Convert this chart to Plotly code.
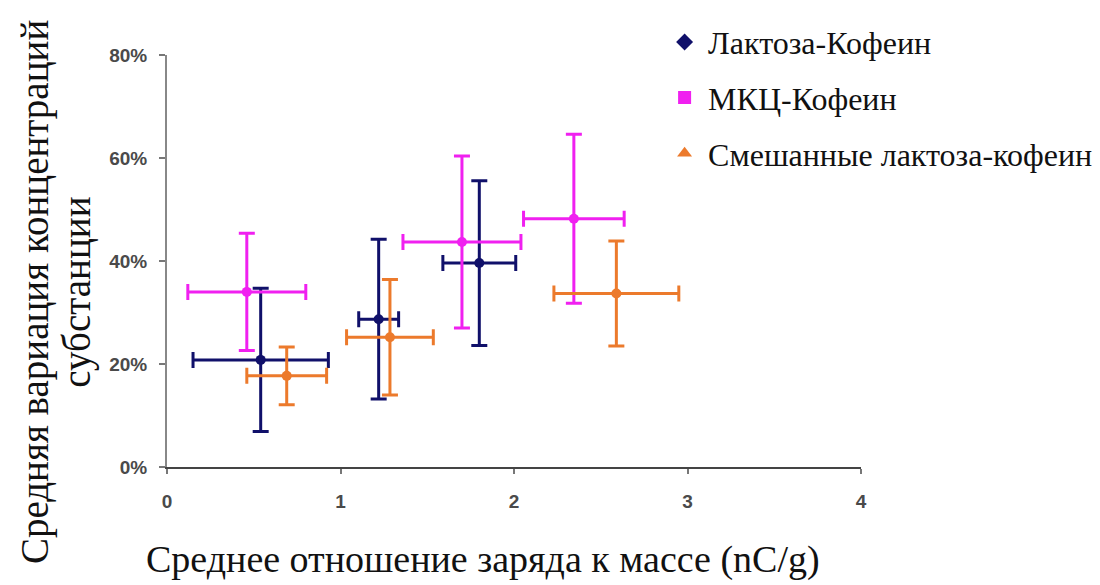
import plotly.graph_objects as go

# Mean charge-to-mass ratio (nC/g) and mean concentration variation per blend
series_names = ["Лактоза-Кофеин", "МКЦ-Кофеин", "Смешанные лактоза-кофеин"]

lactose_x = [0.54, 1.22, 1.80]
lactose_xerr = [0.39, 0.115, 0.21]
lactose_y = [0.208, 0.287, 0.396]
lactose_yerr = [0.139, 0.155, 0.160]

mcc_x = [0.46, 1.70, 2.345]
mcc_xerr = [0.34, 0.34, 0.29]
mcc_y = [0.340, 0.437, 0.482]
mcc_yerr = [0.114, 0.167, 0.164]

mixed_x = [0.69, 1.285, 2.59]
mixed_xerr = [0.23, 0.25, 0.36]
mixed_y = [0.177, 0.252, 0.337]
mixed_yerr = [0.056, 0.112, 0.102]

x_ticks = [0, 1, 2, 3, 4]
y_ticks = [0, 0.2, 0.4, 0.6, 0.8]

colors = ["#10106a", "#f020f0", "#ec7a2c"]
legend_symbols = ["diamond", "square", "triangle-up"]

data = [
    (lactose_x, lactose_xerr, lactose_y, lactose_yerr),
    (mcc_x, mcc_xerr, mcc_y, mcc_yerr),
    (mixed_x, mixed_xerr, mixed_y, mixed_yerr),
]

fig = go.Figure()

for i, (xs, xe, ys, ye) in enumerate(data):
    fig.add_trace(go.Scatter(
        x=xs, y=ys, mode="markers", showlegend=False,
        marker=dict(color=colors[i], size=10, symbol="circle"),
        error_x=dict(type="data", array=xe, visible=True, color=colors[i], thickness=3, width=8),
        error_y=dict(type="data", array=ye, visible=True, color=colors[i], thickness=3, width=8),
    ))

# Legend entries with their own symbols
for i, name in enumerate(series_names):
    fig.add_trace(go.Scatter(
        x=[None], y=[None], mode="markers", name=name, legendgroup=name,
        marker=dict(color=colors[i], size=13, symbol=legend_symbols[i]),
    ))

tick_font = dict(family="Liberation Sans, Arial", size=19, color="#4a4a4a", weight="bold")
serif = "'Liberation Serif', 'Times New Roman', 'DejaVu Serif', serif"

fig.update_layout(
    width=1100, height=585,
    margin=dict(l=167, r=239, t=55, b=118, autoexpand=False),
    paper_bgcolor="white", plot_bgcolor="white",
    xaxis=dict(
        range=[0, 4], tickvals=x_ticks, ticktext=[str(v) for v in x_ticks],
        showgrid=False, zeroline=False, showline=True, linecolor="#444444", linewidth=2,
        ticks="outside", ticklen=5, tickcolor="#777777", tickwidth=2,
        tickfont=tick_font, ticklabelstandoff=11,
    ),
    yaxis=dict(
        range=[0, 0.8], tickvals=y_ticks, tickformat=".0%",
        showgrid=False, zeroline=False, showline=True, linecolor="#888888", linewidth=2,
        ticks="outside", ticklen=6, tickcolor="#777777", tickwidth=2,
        tickfont=tick_font, ticklabelstandoff=8,
    ),
    legend=dict(
        xref="container", yref="container",
        x=0.601, y=0.975, xanchor="left", yanchor="top",
        font=dict(family=serif, size=32, color="#111111"),
        bgcolor="rgba(0,0,0,0)", tracegroupgap=11, itemwidth=37,
    ),
    annotations=[
        dict(text="Среднее отношение заряда к массе (nC/g)", xref="paper", yref="paper",
             x=0.455, y=-0.225, xanchor="center", yanchor="middle", showarrow=False,
             font=dict(family=serif, size=38, color="#111111")),
        dict(text="Средняя вариация концентраций", xref="paper", yref="paper",
             x=-0.19, y=0.425, xanchor="center", yanchor="middle", textangle=-90, showarrow=False,
             font=dict(family=serif, size=39, color="#111111")),
        dict(text="субстанции", xref="paper", yref="paper",
             x=-0.13, y=0.425, xanchor="center", yanchor="middle", textangle=-90, showarrow=False,
             font=dict(family=serif, size=39, color="#111111")),
    ],
)

fig.write_html("out.html")
